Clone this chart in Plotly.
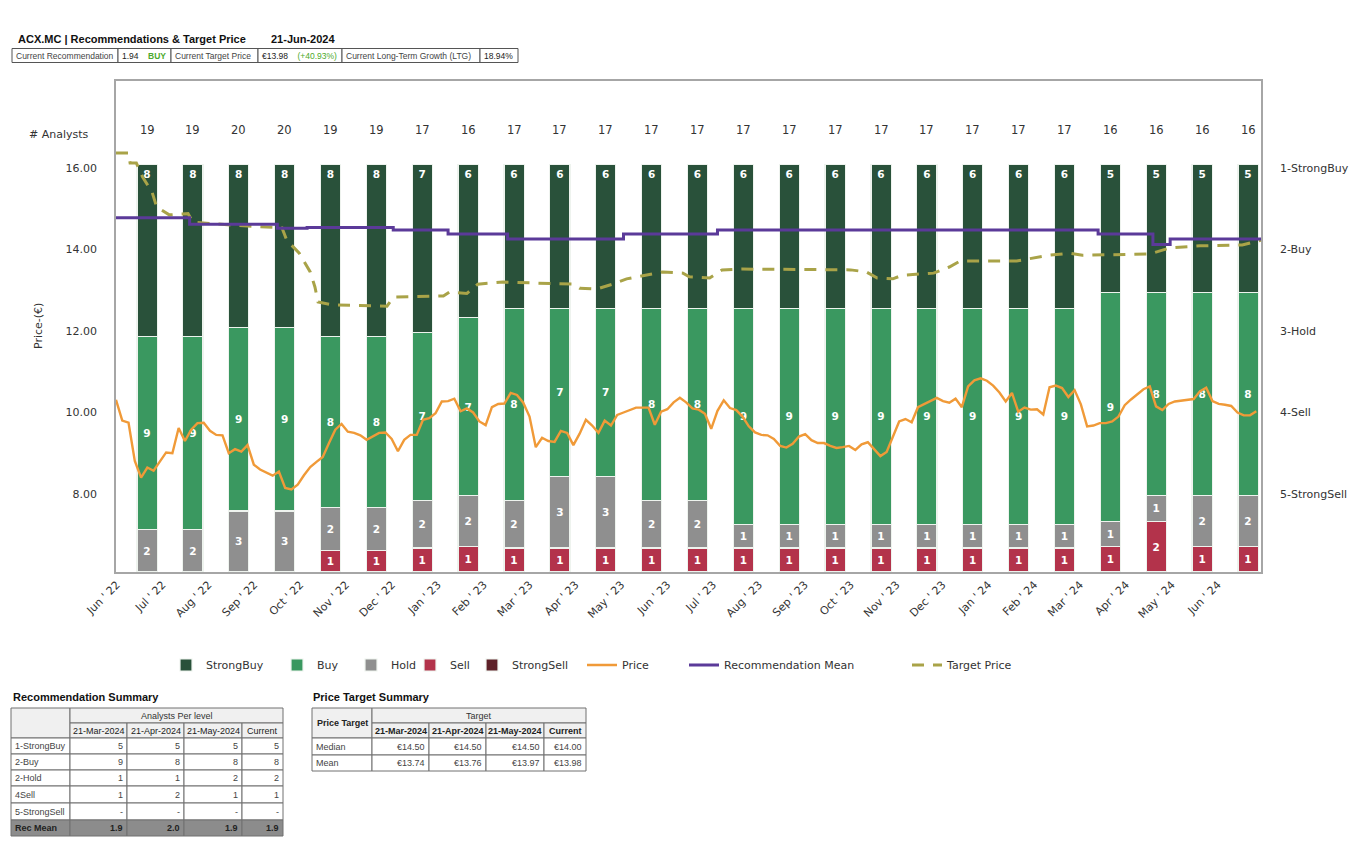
import plotly.graph_objects as go
import pandas as pd

# ---------------- data ----------------
months = ["Jun ' 22", "Jul ' 22", "Aug ' 22", "Sep ' 22", "Oct ' 22", "Nov ' 22", "Dec ' 22",
          "Jan ' 23", "Feb ' 23", "Mar ' 23", "Apr ' 23", "May ' 23", "Jun ' 23", "Jul ' 23",
          "Aug ' 23", "Sep ' 23", "Oct ' 23", "Nov ' 23", "Dec ' 23", "Jan ' 24", "Feb ' 24",
          "Mar ' 24", "Apr ' 24", "May ' 24", "Jun ' 24"]

strong_buy = [8, 8, 8, 8, 8, 8, 7, 6, 6, 6, 6, 6, 6, 6, 6, 6, 6, 6, 6, 6, 6, 5, 5, 5, 5]
buy = [9, 9, 9, 9, 8, 8, 7, 7, 8, 7, 7, 8, 8, 9, 9, 9, 9, 9, 9, 9, 9, 9, 8, 8, 8]
hold = [2, 2, 3, 3, 2, 2, 2, 2, 2, 3, 3, 2, 2, 1, 1, 1, 1, 1, 1, 1, 1, 1, 1, 2, 2]
sell = [0, 0, 0, 0, 1, 1, 1, 1, 1, 1, 1, 1, 1, 1, 1, 1, 1, 1, 1, 1, 1, 1, 2, 1, 1]
strong_sell = [0] * 25

# closing price, one reading every 4 days from 21-Jun-2022
price_start = "2022-06-21"
price = [10.31, 9.80, 9.75, 8.81, 8.40, 8.65, 8.57, 8.80, 9.02, 9.00,
         9.62, 9.30, 9.58, 9.74, 9.75, 9.55, 9.45, 9.44, 9.00, 9.10,
         9.04, 9.20, 8.72, 8.60, 8.52, 8.45, 8.55, 8.15, 8.11, 8.23,
         8.46, 8.66, 8.79, 8.91, 9.25, 9.58, 9.72, 9.53, 9.50, 9.44,
         9.33, 9.42, 9.50, 9.51, 9.35, 9.05, 9.33, 9.45, 9.45, 9.82,
         9.86, 9.98, 10.27, 10.28, 10.34, 10.03, 10.10, 10.00, 9.78, 9.69,
         10.13, 10.21, 10.22, 10.48, 10.43, 10.24, 9.90, 9.15, 9.38, 9.30,
         9.28, 9.55, 9.50, 9.20, 9.48, 9.82, 9.68, 9.50, 9.80, 9.68,
         9.94, 10.00, 10.06, 10.12, 10.12, 10.12, 9.70, 10.02, 10.08, 10.25,
         10.36, 10.25, 10.10, 10.07, 9.97, 9.60, 10.04, 10.30, 10.11, 10.06,
         9.90, 9.66, 9.51, 9.45, 9.44, 9.35, 9.18, 9.14, 9.23, 9.41,
         9.47, 9.32, 9.25, 9.25, 9.18, 9.13, 9.15, 9.18, 9.08, 9.22,
         9.27, 9.10, 8.93, 9.03, 9.40, 9.78, 9.84, 9.76, 10.13, 10.20,
         10.27, 10.36, 10.28, 10.24, 10.34, 10.13, 10.64, 10.79, 10.84, 10.78,
         10.66, 10.49, 10.27, 10.48, 10.02, 10.12, 10.07, 10.08, 9.95, 10.62,
         10.66, 10.60, 10.38, 10.55, 10.20, 9.66, 9.68, 9.74, 9.74, 9.78,
         9.90, 10.18, 10.32, 10.44, 10.57, 10.64, 10.15, 10.06, 10.21, 10.27,
         10.29, 10.31, 10.33, 10.52, 10.61, 10.28, 10.21, 10.19, 10.16, 10.00,
         9.93, 9.93, 10.03]

rec_dates = ["2022-06-21", "2022-08-07", "2022-10-02", "2022-10-21", "2022-12-15", "2023-01-19",
             "2023-02-26", "2023-05-11", "2023-07-10", "2024-03-09", "2024-04-13", "2024-04-24",
             "2024-06-21"]
rec_mean = [1.61, 1.69, 1.74, 1.73, 1.76, 1.81, 1.87, 1.81, 1.76, 1.81, 1.94, 1.87, 1.87]

tp_dates = ["2022-06-21", "2022-06-29", "2022-06-30", "2022-07-04", "2022-07-08", "2022-07-14",
            "2022-07-17", "2022-07-25", "2022-08-06", "2022-08-09", "2022-09-03", "2022-10-05",
            "2022-10-08", "2022-10-16", "2022-10-23", "2022-10-26", "2022-10-28", "2022-11-06",
            "2022-12-11", "2022-12-15", "2023-01-16", "2023-01-20", "2023-01-31", "2023-02-07",
            "2023-02-23", "2023-04-09", "2023-04-13", "2023-04-24", "2023-05-04", "2023-05-13",
            "2023-05-25", "2023-06-05", "2023-06-18", "2023-06-22", "2023-07-05", "2023-07-13",
            "2023-07-26", "2023-10-03", "2023-10-13", "2023-10-20", "2023-10-30", "2023-11-05",
            "2023-11-25", "2023-12-05", "2023-12-12", "2024-01-17", "2024-02-07", "2024-02-20",
            "2024-02-28", "2024-04-11", "2024-04-24", "2024-05-13", "2024-06-09", "2024-06-21"]
target_price = [16.37, 16.37, 16.12, 16.12, 15.78, 15.41, 15.04, 14.85, 14.88, 14.67,
                14.60, 14.53, 14.23, 13.91, 13.45, 13.08, 12.71, 12.64, 12.61, 12.83,
                12.86, 12.96, 12.92, 13.15, 13.20, 13.15, 13.05, 13.03, 13.15, 13.28,
                13.37, 13.45, 13.42, 13.33, 13.30, 13.50, 13.52, 13.50, 13.45, 13.30,
                13.28, 13.37, 13.42, 13.57, 13.72, 13.72, 13.86, 13.91, 13.86, 13.89,
                14.04, 14.09, 14.11, 14.23]

rating_ticks = [1, 2, 3, 4, 5]
rating_labels = ["1-StrongBuy", "2-Buy", "3-Hold", "4-Sell", "5-StrongSell"]
price_ticks = [8, 10, 12, 14, 16]

header_title = "ACX.MC | Recommendations & Target Price"
header_date = "21-Jun-2024"
cur_rec, cur_rec_label = "1.94", "BUY"
cur_tp, cur_tp_pct = "€13.98", "(+40.93%)"
cur_ltg = "18.94%"

sum_cols = ["21-Mar-2024", "21-Apr-2024", "21-May-2024", "Current"]
rec_rows = ["1-StrongBuy", "2-Buy", "2-Hold", "4Sell", "5-StrongSell"]
rec_table = [["5", "5", "5", "5"], ["9", "8", "8", "8"], ["1", "1", "2", "2"],
             ["1", "2", "1", "1"], ["-", "-", "-", "-"]]
rec_mean_row = ["1.9", "2.0", "1.9", "1.9"]
pt_rows = ["Median", "Mean"]
pt_table = [["€14.50", "€14.50", "€14.50", "€14.00"], ["€13.74", "€13.76", "€13.97", "€13.98"]]

# ---------------- layout geometry ----------------
# the page body adds an 8px offset; page coords of the plot area are 116..1261 x 81..572
W, H = 1358, 845
OFF = 8
PL, PT_, PR, PB = 116, 81, 1261, 572
PW, PH = PR - PL, PB - PT_
ML, MT = PL - OFF, PT_ - OFF
MR, MB = W - (PR - OFF), H - (PB - OFF)


def px(x):
    return (x - PL) / PW


def py(y):
    return (PB - y) / PH


CF = "DejaVu Sans"
TF = "Liberation Sans, Arial"
idx = list(range(len(months)))
price_dates = pd.date_range(price_start, periods=len(price), freq="4D")

fig = go.Figure()

series = [("StrongSell", strong_sell, "#5e2129", "middle"),
          ("Sell", sell, "#b3334b", "middle"),
          ("Hold", hold, "#8f8f8f", "middle"),
          ("Buy", buy, "#3a9860", "middle"),
          ("StrongBuy", strong_buy, "#29513a", "end")]
legend_pos = {"StrongBuy": 166, "Buy": 277, "Hold": 351, "Sell": 410, "StrongSell": 472,
              "Price": 582, "Recommendation Mean": 684, "Target Price": 907}
legend_ids = {name: ("legend" if i == 0 else f"legend{i+1}") for i, name in enumerate(legend_pos)}

for name, vals, col, anchor in series:
    fig.add_trace(go.Bar(
        x=idx, y=vals, name=name, marker=dict(color=col, line=dict(color="#eef3ee", width=1.2)),
        width=0.44, text=[str(v) if v else "" for v in vals], textposition="inside",
        insidetextanchor=anchor, textangle=0,
        textfont=dict(family=CF, size=10.5, color="white", weight="bold"),
        xaxis="x", yaxis="y", legend=legend_ids[name], showlegend=True, hoverinfo="skip"))

fig.add_trace(go.Scatter(x=price_dates, y=price, mode="lines", name="Price",
                         line=dict(color="#f09a38", width=2.4), xaxis="x2", yaxis="y2",
                         legend=legend_ids["Price"], hoverinfo="skip"))
fig.add_trace(go.Scatter(x=rec_dates, y=rec_mean, mode="lines", name="Recommendation Mean",
                         line=dict(color="#5b3a99", width=3, shape="hv"), xaxis="x2", yaxis="y3",
                         legend=legend_ids["Recommendation Mean"], hoverinfo="skip"))
fig.add_trace(go.Scatter(x=tp_dates, y=target_price, mode="lines", name="Target Price",
                         line=dict(color="#a9a348", width=3, dash="12px,9px"), xaxis="x2", yaxis="y2",
                         legend=legend_ids["Target Price"], hoverinfo="skip"))

shapes = []
annotations = []


def note(x, y, text, size=11, family=CF, color="#333", xanchor="left", xref="paper", angle=0):
    annotations.append(dict(x=x, y=y, xref=xref, yref="paper", text=text, showarrow=False,
                            xanchor=xanchor, yanchor="middle", textangle=angle,
                            font=dict(family=family, size=size, color=color)))


# analyst counts above bars
totals = [a + b + c + d + e for a, b, c, d, e in zip(strong_buy, buy, hold, sell, strong_sell)]
for i, t in zip(idx, totals):
    note(i, py(130), str(t), size=11.5, xanchor="center", xref="x")
note(px(91), py(135), "# Analysts", xanchor="right")
note(px(38), py(326), "Price-(€)", xanchor="center", angle=-90)

# header
note(px(16), py(39), "<b>" + header_title + "</b>", size=11, family=TF, color="#111")
note(px(269), py(39), "<b>" + header_date + "</b>", size=11, family=TF, color="#111")


def cell(x0, y0, x1, y1, fill="white", text="", align="left", color="#333", size=9, lc="#707070"):
    shapes.append(dict(type="rect", xref="paper", yref="paper", x0=px(x0), x1=px(x1),
                       y0=py(y1), y1=py(y0), fillcolor=fill, line=dict(color=lc, width=1),
                       layer="above"))
    if text:
        if align == "left":
            ax, xa = x0 + 2, "left"
        elif align == "right":
            ax, xa = x1 - 2, "right"
        else:
            ax, xa = (x0 + x1) / 2, "center"
        note(px(ax), py((y0 + y1) / 2), text, size=size, family=TF, color=color, xanchor=xa)


green = "#4caa2c"
hx = [12, 118, 171, 258, 342, 480, 518]
htexts = ["Current Recommendation",
          cur_rec + "&nbsp;&nbsp;&nbsp;&nbsp;<span style='color:%s'><b>%s</b></span>" % (green, cur_rec_label),
          "Current Target Price",
          cur_tp + "&nbsp;&nbsp;&nbsp;&nbsp;<span style='color:%s'>%s</span>" % (green, cur_tp_pct),
          "Current Long-Term Growth (LTG)",
          cur_ltg]
for k, t in enumerate(htexts):
    cell(hx[k], 48.5, hx[k + 1], 62.5, text=t, color="#444" if k % 2 == 0 else "#222", size=8.5, lc="#555")

# Recommendation summary table
note(px(11), py(697), "<b>Recommendation Summary</b>", size=11, family=TF, color="#111")
rx = [11, 70, 127, 184, 242, 283]
ry = [708, 723, 738, 754, 770, 786, 803, 820, 836]
hdr = "#f0f0f0"
cell(rx[0], ry[0], rx[1], ry[2], fill=hdr)
cell(rx[1], ry[0], rx[5], ry[1], fill=hdr, text="Analysts Per level", align="center")
for c, name in enumerate(sum_cols):
    cell(rx[c + 1], ry[1], rx[c + 2], ry[2], fill=hdr, text=name, align="center", color="#222")
for r, name in enumerate(rec_rows):
    cell(rx[0], ry[r + 2], rx[1], ry[r + 3], text=name, color="#444")
    for c, v in enumerate(rec_table[r]):
        cell(rx[c + 1], ry[r + 2], rx[c + 2], ry[r + 3], text=v, align="right", color="#444")
cell(rx[0], ry[7], rx[1], ry[8], fill="#8c8c8c", text="<b>Rec Mean</b>", color="#222")
for c, v in enumerate(rec_mean_row):
    cell(rx[c + 1], ry[7], rx[c + 2], ry[8], fill="#8c8c8c", text="<b>" + v + "</b>",
         align="right", color="#222")

# Price target summary table
note(px(311), py(697), "<b>Price Target Summary</b>", size=11, family=TF, color="#111")
tx = [312, 372, 429, 486, 544, 586]
ty = [708, 723, 738, 755, 771]
cell(tx[0], ty[0], tx[1], ty[2], fill=hdr, text="<b>Price Target</b>", align="center", color="#222")
cell(tx[1], ty[0], tx[5], ty[1], fill=hdr, text="Target", align="center")
for c, name in enumerate(sum_cols):
    cell(tx[c + 1], ty[1], tx[c + 2], ty[2], fill=hdr, text="<b>" + name + "</b>", align="center",
         color="#222")
for r, name in enumerate(pt_rows):
    cell(tx[0], ty[r + 2], tx[1], ty[r + 3], text=name, color="#444")
    for c, v in enumerate(pt_table[r]):
        cell(tx[c + 1], ty[r + 2], tx[c + 2], ty[r + 3], text=v, align="right", color="#444")

box = "#a6a6a6"
layout = dict(
    width=W, height=H, margin=dict(l=ML, r=MR, t=MT, b=MB, autoexpand=False),
    paper_bgcolor="white", plot_bgcolor="white", showlegend=True,
    barmode="stack", barnorm="percent", bargap=0.5,
    font=dict(family=CF, size=11, color="#333"),
    xaxis=dict(range=[-0.676, 24.283], tickvals=[i - 0.66 for i in idx], ticktext=months,
               tickangle=-45, showgrid=False, zeroline=False, showline=True, mirror=True,
               linecolor=box, linewidth=2, ticks="", tickfont=dict(family=CF, size=11, color="#333")),
    yaxis=dict(range=[0, 120.6], showticklabels=False, showgrid=False, zeroline=False,
               showline=True, mirror=True, linecolor=box, linewidth=2, ticks=""),
    xaxis2=dict(type="date", overlaying="x", range=["2022-06-21", "2024-06-21"], visible=False),
    yaxis2=dict(overlaying="y", side="left", anchor="x2", range=[6.086, 18.135],
                tickvals=price_ticks, tickformat=".2f", showgrid=False, zeroline=False,
                showline=False, ticks="", ticklabelstandoff=18,
                tickfont=dict(family=CF, size=11, color="#333")),
    yaxis3=dict(overlaying="y", side="right", anchor="x2", range=[5.957, -0.067],
                tickvals=rating_ticks, ticktext=rating_labels, showgrid=False, zeroline=False,
                showline=False, ticks="", ticklabelstandoff=18,
                tickfont=dict(family=CF, size=11, color="#333")),
    shapes=shapes, annotations=annotations,
)
for name, xpos in legend_pos.items():
    layout[legend_ids[name]] = dict(x=px(xpos), y=py(665), xref="paper", yref="paper",
                                    xanchor="left", yanchor="middle", orientation="h",
                                    bgcolor="rgba(0,0,0,0)", font=dict(family=CF, size=11, color="#333"))
fig.update_layout(**layout)
fig.write_html("out.html")
